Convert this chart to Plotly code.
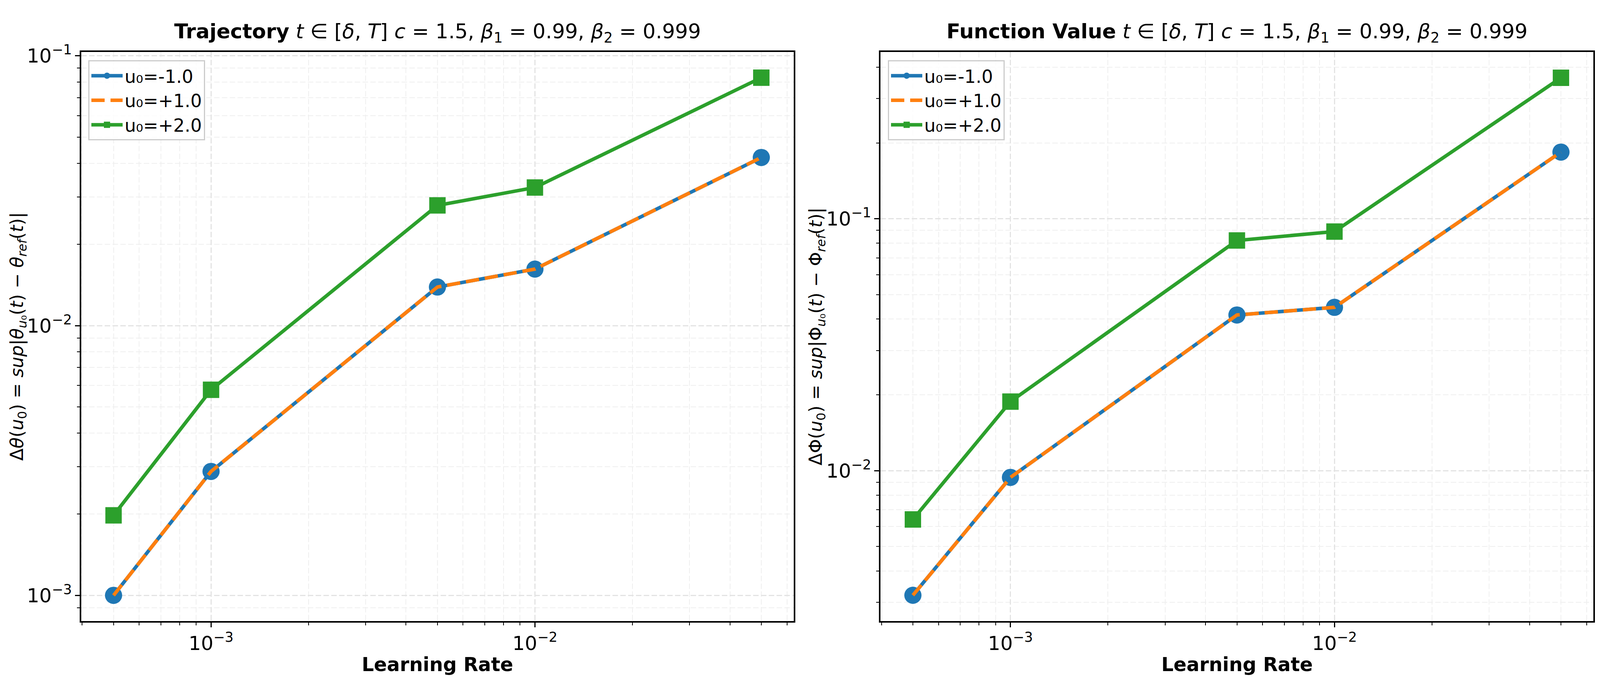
import plotly.graph_objects as go

learning_rates = [5e-4, 1e-3, 5e-3, 1e-2, 5e-2]

traj_u_m1 = [1.0e-3, 2.88e-3, 1.39e-2, 1.62e-2, 4.2e-2]
traj_u_p1 = [1.0e-3, 2.88e-3, 1.39e-2, 1.62e-2, 4.2e-2]
traj_u_p2 = [1.98e-3, 5.78e-3, 2.79e-2, 3.25e-2, 8.3e-2]

func_u_m1 = [3.2e-3, 9.4e-3, 4.15e-2, 4.45e-2, 0.184]
func_u_p1 = [3.2e-3, 9.4e-3, 4.15e-2, 4.45e-2, 0.184]
func_u_p2 = [6.4e-3, 1.88e-2, 8.2e-2, 8.9e-2, 0.363]

series_names = ["u₀=-1.0", "u₀=+1.0", "u₀=+2.0"]

BLUE = "#1f77b4"
ORANGE = "#ff7f0e"
GREEN = "#2ca02c"
FONT = "DejaVu Sans"

W, H = 4756, 1750

fig = go.Figure()


def add_panel(xa, ya, leg, ys):
    y1, y2, y3 = ys
    fig.add_trace(go.Scatter(
        x=learning_rates, y=y1, name=series_names[0], mode="lines+markers",
        line=dict(color=BLUE, width=9),
        marker=dict(symbol="circle", size=44, color=BLUE),
        xaxis=xa, yaxis=ya, legend=leg))
    fig.add_trace(go.Scatter(
        x=learning_rates, y=y2, name=series_names[1], mode="lines",
        line=dict(color=ORANGE, width=9, dash="34px,15px"),
        xaxis=xa, yaxis=ya, legend=leg))
    fig.add_trace(go.Scatter(
        x=learning_rates, y=y3, name=series_names[2], mode="lines+markers",
        line=dict(color=GREEN, width=9),
        marker=dict(symbol="square", size=42, color=GREEN),
        xaxis=xa, yaxis=ya, legend=leg))


add_panel("x", "y", "legend", (traj_u_m1, traj_u_p1, traj_u_p2))
add_panel("x2", "y2", "legend2", (func_u_m1, func_u_p1, func_u_p2))

ydom = [1 - 1579 / H, 1 - 101 / H]
xdom1 = [232 / W, 2350 / W]
xdom2 = [2608 / W, 4727 / W]


def axis_style(domain, rng, anchor):
    return dict(
        type="log", domain=domain, range=rng, anchor=anchor,
        dtick=1, exponentformat="power", showexponent="all",
        showline=True, linecolor="black", linewidth=3.5, mirror=True,
        ticks="outside", ticklen=12, tickwidth=3.2, tickcolor="black",
        tickfont=dict(family=FONT, size=40, color="black"),
        showgrid=True, gridcolor="#e3e3e3", gridwidth=3, griddash="14px,6px",
        zeroline=False,
        minor=dict(dtick="D1", ticks="outside", ticklen=7, tickwidth=2.4,
                   tickcolor="black", showgrid=True, gridcolor="#efefef",
                   gridwidth=2.4, griddash="14px,6px"),
    )


def legend_style(xpos):
    return dict(x=xpos, y=1 - 123 / H, xanchor="left", yanchor="top",
                bgcolor="rgba(255,255,255,0.8)", bordercolor="#cccccc",
                borderwidth=3, font=dict(family=FONT, size=46),
                itemwidth=80, tracegroupgap=0)


fig.update_layout(
    autosize=True,
    margin=dict(l=0, r=0, t=0, b=0),
    paper_bgcolor="white", plot_bgcolor="white",
    font=dict(family=FONT, color="black"),
    xaxis=axis_style(xdom1, [-3.401, -1.201], "y"),
    yaxis=axis_style(ydom, [-3.096, -0.985], "x"),
    xaxis2=axis_style(xdom2, [-3.401, -1.201], "y2"),
    yaxis2=axis_style(ydom, [-2.598, -0.337], "x2"),
    legend=legend_style(253 / W),
    legend2=legend_style(2630 / W),
    showlegend=True,
)

title_math = ("<i>t</i> ∈ [<i>δ</i>, <i>T</i>] <i>c</i> = 1.5, "
              "<i>β</i><sub>1</sub> = 0.99, <i>β</i><sub>2</sub> = 0.999")
titles = ["<b>Trajectory</b> " + title_math, "<b>Function Value</b> " + title_math]
ylabels = [
    "Δ<i>θ</i>(<i>u</i><sub>0</sub>) = <i>sup</i>|<i>θ</i><sub><i>u</i>₀</sub>(<i>t</i>) − <i>θ</i><sub><i>ref</i></sub>(<i>t</i>)|",
    "ΔΦ(<i>u</i><sub>0</sub>) = <i>sup</i>|Φ<sub><i>u</i>₀</sub>(<i>t</i>) − Φ<sub><i>ref</i></sub>(<i>t</i>)|",
]

for dom, t in zip([xdom1, xdom2], titles):
    fig.add_annotation(x=(dom[0] + dom[1]) / 2, y=1 - 52 / H, xref="paper", yref="paper",
                       text=t, showarrow=False, xanchor="center", yanchor="middle",
                       font=dict(family=FONT, size=52, color="black"))
    fig.add_annotation(x=(dom[0] + dom[1]) / 2, y=1 - 1692 / H, xref="paper", yref="paper",
                       text="<b>Learning Rate</b>", showarrow=False,
                       xanchor="center", yanchor="middle",
                       font=dict(family=FONT, size=49, color="black"))

for xc, lab in zip([0.0092, 0.5085], ylabels):
    fig.add_annotation(x=xc, y=(ydom[0] + ydom[1]) / 2, xref="paper", yref="paper",
                       text=lab, showarrow=False, textangle=-90,
                       xanchor="center", yanchor="middle",
                       font=dict(family=FONT, size=46, color="black"))

fig.write_html("out.html", default_width="100vw", default_height="100vh")
